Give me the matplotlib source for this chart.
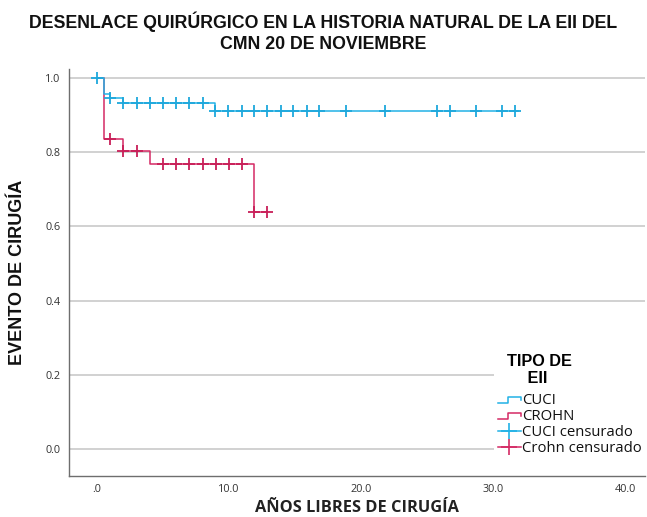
import numpy as np
import matplotlib
matplotlib.use("Agg")
import matplotlib.pyplot as plt
from matplotlib.lines import Line2D
from matplotlib.legend_handler import HandlerBase

# Kaplan-Meier steps (years free of surgery, cumulative survival)
cuci_times = [0.0, 0.53, 1.0, 2.0, 8.94, 31.9]
cuci_surv = [1.0, 0.956, 0.945, 0.933, 0.912, 0.912]
crohn_times = [0.0, 0.53, 2.0, 4.0, 11.92, 12.9]
crohn_surv = [1.0, 0.835, 0.804, 0.767, 0.639, 0.639]

# Censored observations
cuci_censored = [0.0, 1.0, 2.0, 3.0, 4.0, 5.0, 6.0, 7.0, 8.0, 8.94, 9.95, 10.96,
                 11.92, 12.9, 13.92, 14.87, 15.89, 16.84, 18.86, 21.82, 25.78,
                 26.74, 28.71, 30.7, 31.67]
crohn_censored = [1.0, 2.0, 3.0, 5.0, 6.0, 7.0, 8.0, 9.0, 10.0, 11.0, 11.92, 12.9]

x_ticks = [0, 10, 20, 30, 40]
x_ticklabels = [".0", "10.0", "20.0", "30.0", "40.0"]
y_ticks = [0.0, 0.2, 0.4, 0.6, 0.8, 1.0]
y_ticklabels = ["0.0", "0.2", "0.4", "0.6", "0.8", "1.0"]

series_labels = ["CUCI", "CROHN", "CUCI censurado", "Crohn censurado"]

BLUE = "#22b2e6"
RED = "#d42a64"


def step_value(times, surv, t):
    idx = np.searchsorted(times, t, side="right") - 1
    return np.asarray(surv)[idx]


fig = plt.figure(figsize=(6.47, 5.17), dpi=100)
ax = fig.add_axes([0.1066, 0.0793, 0.8904, 0.7872])

ax.set_xlim(-2.12, 41.5)
ax.set_ylim(-0.073, 1.024)

for yv in y_ticks:
    ax.axhline(yv, color="#c9c9c9", lw=1.2, zorder=0)

ax.step(crohn_times, crohn_surv, where="post", color=RED, lw=1.1, zorder=3)
ax.step(cuci_times, cuci_surv, where="post", color=BLUE, lw=1.1, zorder=4)

crohn_cy = [step_value(crohn_times, crohn_surv, t) for t in crohn_censored]
cuci_cy = [step_value(cuci_times, cuci_surv, t) for t in cuci_censored]
ax.plot(crohn_censored, crohn_cy, ls="none", marker="+", ms=8, mew=1.3,
        color="#c81f58", zorder=5)
ax.plot(cuci_censored, cuci_cy, ls="none", marker="+", ms=8, mew=1.3,
        color="#1ea8dc", zorder=6)

ax.set_xticks(x_ticks)
ax.set_xticklabels(x_ticklabels)
ax.set_yticks(y_ticks)
ax.set_yticklabels(y_ticklabels)
ax.tick_params(length=0, labelsize=7.8, colors="#333333")
ax.tick_params(axis="y", pad=6)
ax.tick_params(axis="x", pad=6)
for lab in ax.get_xticklabels() + ax.get_yticklabels():
    lab.set_family("Open Sans")

for side in ("top", "right"):
    ax.spines[side].set_visible(False)
for side in ("left", "bottom"):
    ax.spines[side].set_color("#6e6e6e")
    ax.spines[side].set_linewidth(1.0)

ax.set_xlabel("AÑOS LIBRES DE CIRUGÍA", family="Open Sans", fontweight="bold",
              fontsize=11.8, color="#222222", labelpad=3)
ax.set_ylabel("EVENTO DE CIRUGÍA", family="Liberation Sans", fontweight="bold",
              fontsize=13, color="#111111", labelpad=14)

fig.text(0.5, 0.978, "DESENLACE QUIRÚRGICO EN LA HISTORIA NATURAL DE LA EII DEL\n"
         "CMN 20 DE NOVIEMBRE", ha="center", va="top", family="Liberation Sans",
         fontweight="bold", fontsize=12.8, linespacing=1.3, color="#111111")


class StepHandler(HandlerBase):
    def __init__(self, color):
        super().__init__()
        self.color = color

    def create_artists(self, legend, orig_handle, xdescent, ydescent, width,
                       height, fontsize, trans):
        x0, w, h = -xdescent, width, height
        xs = [x0, x0 + 0.45 * w, x0 + 0.45 * w, x0 + w, x0 + w]
        ys = [0.1 * h, 0.1 * h, 0.7 * h, 0.7 * h, 0.4 * h]
        line = Line2D(xs, ys, color=self.color, lw=1.1, transform=trans)
        return [line]


h_cuci = Line2D([], [], color=BLUE)
h_crohn = Line2D([], [], color=RED)
h_cuci_c = Line2D([], [], color=BLUE, lw=1.1, marker="+", ms=11, mew=1.2)
h_crohn_c = Line2D([], [], color=RED, lw=1.1, marker="+", ms=11, mew=1.2)

leg = ax.legend([h_cuci, h_crohn, h_cuci_c, h_crohn_c], series_labels,
                handler_map={h_cuci: StepHandler(BLUE), h_crohn: StepHandler(RED)},
                title="  TIPO DE\n EII", loc="upper left", bbox_to_anchor=(0.738, 0.31),
                frameon=True, facecolor="white", edgecolor="none", framealpha=1,
                prop={"family": "Open Sans", "size": 10.7}, handlelength=1.55,
                handletextpad=0.1, labelspacing=0.08, borderpad=0.25,
                borderaxespad=0.0, fancybox=False, markerfirst=True)
leg._legend_box.align = "left"
leg._legend_box.sep = 5
title = leg.get_title()
title.set_fontweight("bold")
title.set_fontsize(11.7)
title.set_family("Liberation Sans")
title.set_multialignment("center")
leg.set_zorder(10)
for txt in leg.get_texts():
    txt.set_color("#111111")

fig.savefig("out.png", dpi=100)
